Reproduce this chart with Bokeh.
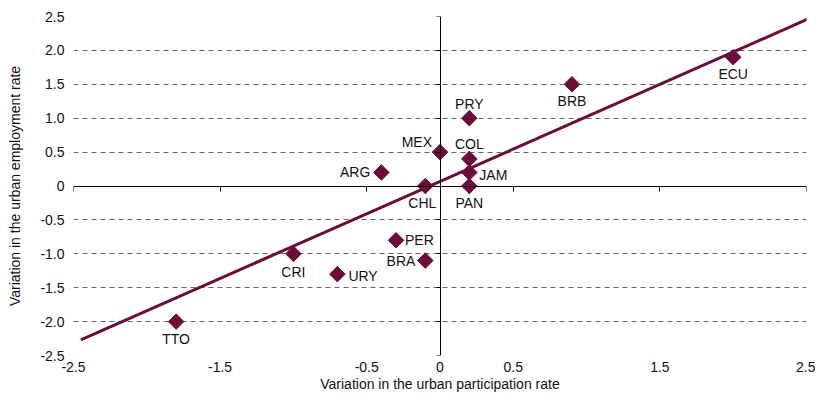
import math
from bokeh.plotting import figure
from bokeh.models import (ColumnDataSource, Range1d, LinearAxis, FixedTicker)
from bokeh.embed import file_html
from bokeh.resources import INLINE

# ---- data ----
countries = ["ARG", "MEX", "PRY", "COL", "JAM", "PAN", "CHL", "BRB", "ECU",
             "CRI", "URY", "PER", "BRA", "TTO"]
participation = [-0.4, 0.0, 0.2, 0.2, 0.2, 0.2, -0.1, 0.9, 2.0,
                 -1.0, -0.7, -0.3, -0.1, -1.8]
employment = [0.2, 0.5, 1.0, 0.4, 0.2, 0.0, 0.0, 1.5, 1.9,
              -1.0, -1.3, -0.8, -1.1, -2.0]

trend_x = [-2.45, 2.56]
trend_y = [-2.27, 2.51]

x_ticks = [-2.5, -1.5, -0.5, 0, 0.5, 1.5, 2.5]
x_tick_labels = ["-2.5", "-1.5", "-0.5", "0", "0.5", "1.5", "2.5"]
y_ticks = [2.5, 2.0, 1.5, 1.0, 0.5, 0, -0.5, -1.0, -1.5, -2.0, -2.5]
y_tick_labels = ["2.5", "2.0", "1.5", "1.0", "0.5", "0", "-0.5", "-1.0",
                 "-1.5", "-2.0", "-2.5"]
center_x_ticks = [-2.5, -1.5, -0.5, 0.5, 1.5, 2.5]

# ---- label placement (layout only) ----
label_dx = {"ARG": -11, "MEX": -8, "PRY": 0, "COL": 0, "JAM": 10, "PAN": 0,
            "CHL": -3, "BRB": 0, "ECU": 0, "CRI": 0, "URY": 11, "PER": 9,
            "BRA": -10, "TTO": 0}
label_dy = {"ARG": 0, "MEX": -10, "PRY": -14, "COL": -15, "JAM": 3, "PAN": 17,
            "CHL": 17, "BRB": 17, "ECU": 17, "CRI": 18, "URY": 2, "PER": 0,
            "BRA": 0, "TTO": 17}
label_align = {"ARG": "right", "MEX": "right", "JAM": "left", "URY": "left",
               "PER": "left", "BRA": "right"}

MAROON = "#6B0C3B"
FONT = "Liberation Sans"

p = figure(width=815, height=396,
           x_range=Range1d(-2.5, 2.5), y_range=Range1d(-2.5, 2.5),
           min_border_left=73, min_border_right=9, min_border_top=16,
           min_border_bottom=41,
           output_backend="svg", toolbar_location=None)
p.outline_line_color = None
p.background_fill_color = "white"
p.border_fill_color = "white"

# grid
p.xgrid.visible = False
p.ygrid.ticker = FixedTicker(ticks=y_ticks)
p.ygrid.grid_line_color = "#666666"
p.ygrid.grid_line_dash = "5 4"
p.ygrid.grid_line_width = 1

# bottom axis (labels only)
xa = p.xaxis[0]
xa.ticker = FixedTicker(ticks=x_ticks)
xa.major_label_overrides = {t: l for t, l in zip(x_ticks, x_tick_labels)}
xa.axis_line_color = None
xa.major_tick_line_color = None
xa.minor_tick_line_color = None
xa.major_tick_out = 0
xa.major_tick_in = 0
xa.major_label_standoff = 6
xa.major_label_text_font = FONT
xa.major_label_text_font_size = "14px"
xa.major_label_text_color = "#111111"
xa.axis_label = "Variation in the urban participation rate"
xa.axis_label_standoff = 1
xa.axis_label_text_font = FONT
xa.axis_label_text_font_size = "14px"
xa.axis_label_text_font_style = "normal"
xa.axis_label_text_color = "#111111"

# left axis (labels only)
ya = p.yaxis[0]
ya.ticker = FixedTicker(ticks=y_ticks)
ya.major_label_overrides = {t: l for t, l in zip(y_ticks, y_tick_labels)}
ya.axis_line_color = None
ya.major_tick_line_color = None
ya.minor_tick_line_color = None
ya.major_tick_out = 0
ya.major_tick_in = 0
ya.major_label_standoff = 9
ya.major_label_text_font = FONT
ya.major_label_text_font_size = "14px"
ya.major_label_text_color = "#111111"
ya.axis_label = "Variation in the urban employment rate"
ya.axis_label_standoff = 14
ya.axis_label_text_font = FONT
ya.axis_label_text_font_size = "14px"
ya.axis_label_text_font_style = "normal"
ya.axis_label_text_color = "#111111"

# crossing axes at zero (placed in above/right panels, ticks pointing inward)
cx = LinearAxis(fixed_location=0, ticker=FixedTicker(ticks=center_x_ticks),
                major_label_overrides={t: "" for t in center_x_ticks},
                major_label_text_font_size="0px", major_label_standoff=0,
                major_tick_out=0, major_tick_in=5,
                minor_tick_line_color=None, axis_line_color="black",
                major_tick_line_color="black", bounds=(-2.5, 2.5))
p.add_layout(cx, "above")
cy = LinearAxis(fixed_location=0, ticker=FixedTicker(ticks=y_ticks),
                major_label_overrides={t: "" for t in y_ticks},
                major_label_text_font_size="0px", major_label_standoff=0,
                major_tick_out=0, major_tick_in=4,
                minor_tick_line_color=None, axis_line_color="black",
                major_tick_line_color="black", bounds=(-2.5, 2.5))
p.add_layout(cy, "right")

# trend line
p.line(trend_x, trend_y, line_color=MAROON, line_width=3)

# points
src = ColumnDataSource(dict(
    x=participation, y=employment, name=countries,
    dx=[label_dx[c] for c in countries],
    dy=[label_dy[c] for c in countries],
    align=[label_align.get(c, "center") for c in countries],
))
p.scatter("x", "y", source=src, marker="square", angle=math.pi / 4,
          size=11, fill_color=MAROON, line_color=MAROON)

p.text("x", "y", text="name", source=src, x_offset="dx", y_offset="dy",
       text_align="align", text_baseline="middle",
       text_font={"value": FONT}, text_font_size="14px", text_color="#111111")

open("out.html", "w").write(file_html(p, INLINE))
